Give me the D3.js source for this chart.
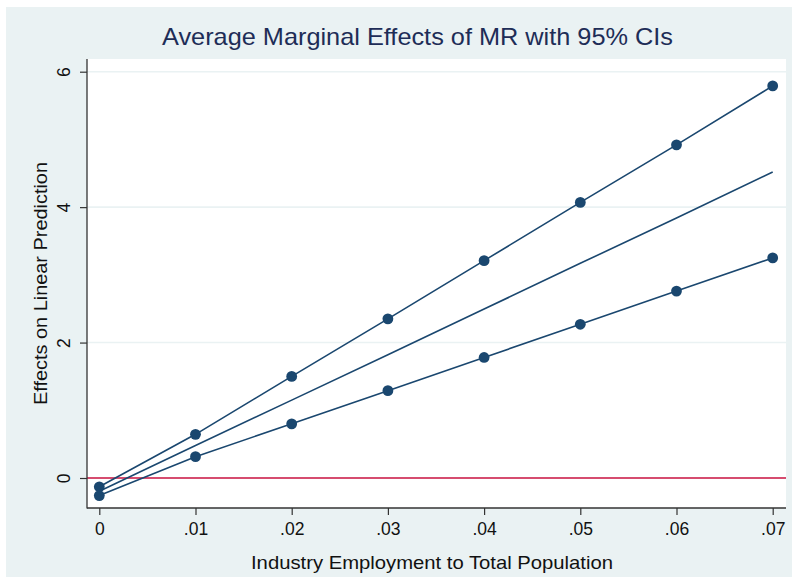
<!DOCTYPE html>
<html>
<head>
<meta charset="utf-8">
<script src="https://cdn.jsdelivr.net/npm/d3@7"></script>
<style>
  html, body { margin: 0; padding: 0; background: #ffffff; }
  svg { display: block; font-family: "Liberation Sans", Arial, Helvetica, sans-serif; }
</style>
</head>
<body>
<svg id="chart" width="792" height="580"></svg>
<script>
// Industry employment share (x) and average marginal effect of MR with 95% CI bounds
const xValues   = [0, 0.01, 0.02, 0.03, 0.04, 0.05, 0.06, 0.07];
const upperCI   = [-0.13, 0.645, 1.50, 2.35, 3.21, 4.07, 4.92, 5.79];
const effect    = [-0.195, 0.48, 1.15, 1.82, 2.495, 3.17, 3.84, 4.52];
const lowerCI   = [-0.26, 0.315, 0.80, 1.29, 1.78, 2.27, 2.76, 3.25];
const xTicks    = [0, 0.01, 0.02, 0.03, 0.04, 0.05, 0.06, 0.07];
const xTickText = ["0", ".01", ".02", ".03", ".04", ".05", ".06", ".07"];
const yTicks    = [0, 2, 4, 6];

const svg = d3.select("#chart");
const W = 792, H = 580;

// outer graph region and inner plot region
const outer = { x: 6, y: 7, w: W - 6, h: 570 };
const plot  = { left: 87, right: 786, top: 59, bottom: 508 };

const navy = "#1a476f";
const bg = "#eaf2f3";

svg.append("rect").attr("x", outer.x).attr("y", outer.y)
  .attr("width", outer.w).attr("height", outer.h).attr("fill", bg);

svg.append("rect")
  .attr("x", plot.left).attr("y", plot.top)
  .attr("width", plot.right - plot.left).attr("height", plot.bottom - plot.top)
  .attr("fill", "#ffffff");

const x = d3.scaleLinear().domain([0, 0.07]).range([99.3, 772.7]);
const y = d3.scaleLinear().domain([0, 6]).range([478, 71.7]);

// horizontal grid lines
svg.append("g").selectAll("line")
  .data(yTicks.filter(d => d !== 0))
  .join("line")
  .attr("x1", plot.left).attr("x2", plot.right)
  .attr("y1", d => y(d)).attr("y2", d => y(d))
  .attr("stroke", bg).attr("stroke-width", 1.6);

// reference line at zero
svg.append("line")
  .attr("x1", plot.left).attr("x2", plot.right)
  .attr("y1", y(0)).attr("y2", y(0))
  .attr("stroke", "#c8113f").attr("stroke-width", 1.6);

// y axis
const yAxis = svg.append("g")
  .attr("transform", `translate(${plot.left},0)`)
  .call(d3.axisLeft(y).tickValues(yTicks).tickSize(7).tickPadding(4).tickFormat(d3.format("d")));
yAxis.select(".domain").remove();
yAxis.selectAll(".tick line").attr("stroke", "#333").attr("stroke-width", 1.2);
yAxis.selectAll(".tick text")
  .attr("font-size", 17.5).attr("fill", "#111")
  .attr("text-anchor", "middle")
  .attr("x", null).attr("dy", null)
  .attr("transform", "translate(-17,0) rotate(-90)");

// x axis
const xAxis = svg.append("g")
  .attr("transform", `translate(0,${plot.bottom})`)
  .call(d3.axisBottom(x).tickValues(xTicks).tickSize(7).tickPadding(7.5)
    .tickFormat((d, i) => xTickText[i]));
xAxis.select(".domain").remove();
xAxis.selectAll(".tick line").attr("stroke", "#333").attr("stroke-width", 1.2);
xAxis.selectAll(".tick text").attr("font-size", 17.5).attr("fill", "#111");

// axis lines
svg.append("line")
  .attr("x1", plot.left).attr("x2", plot.left)
  .attr("y1", plot.top).attr("y2", plot.bottom + 0.6)
  .attr("stroke", "#333").attr("stroke-width", 1.3);
svg.append("line")
  .attr("x1", plot.left).attr("x2", plot.right)
  .attr("y1", plot.bottom).attr("y2", plot.bottom)
  .attr("stroke", "#333").attr("stroke-width", 1.3);

// series
const line = d3.line().x(d => x(d[0])).y(d => y(d[1]));
const series = [
  { values: upperCI, markers: true },
  { values: effect,  markers: false },
  { values: lowerCI, markers: true }
];
series.forEach(s => {
  const pts = xValues.map((v, i) => [v, s.values[i]]);
  svg.append("path").datum(pts)
    .attr("d", line).attr("fill", "none")
    .attr("stroke", navy).attr("stroke-width", 1.6);
  if (s.markers) {
    svg.append("g").selectAll("circle").data(pts).join("circle")
      .attr("cx", d => x(d[0])).attr("cy", d => y(d[1]))
      .attr("r", 5.4).attr("fill", navy);
  }
});

// titles
svg.append("text")
  .attr("x", 417.5).attr("y", 45)
  .attr("text-anchor", "middle")
  .attr("font-size", 24).attr("fill", "#1e2d57")
  .attr("textLength", 511).attr("lengthAdjust", "spacingAndGlyphs")
  .text("Average Marginal Effects of MR with 95% CIs");

svg.append("text")
  .attr("x", 432).attr("y", 569)
  .attr("text-anchor", "middle")
  .attr("font-size", 18.5).attr("fill", "#111")
  .attr("textLength", 362).attr("lengthAdjust", "spacingAndGlyphs")
  .text("Industry Employment to Total Population");

svg.append("text")
  .attr("transform", `translate(46.5,${(plot.top + plot.bottom) / 2}) rotate(-90)`)
  .attr("text-anchor", "middle")
  .attr("font-size", 18.5).attr("fill", "#111")
  .attr("textLength", 243).attr("lengthAdjust", "spacingAndGlyphs")
  .text("Effects on Linear Prediction");
</script>
</body>
</html>
